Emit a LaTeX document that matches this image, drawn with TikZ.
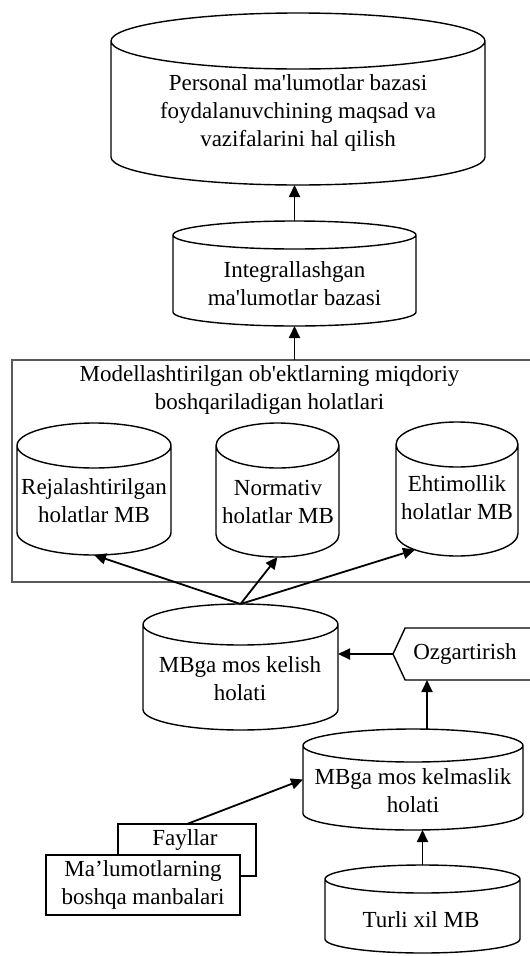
\documentclass[tikz,border=0pt]{standalone}
\usepackage{fontspec}
\setmainfont{Liberation Serif}[Ligatures=TeXOff]
\usetikzlibrary{arrows.meta,shapes.symbols,calc}

\tikzset{
  body/.style={draw=none, rectangle, inner sep=0pt, outer sep=0pt},
  cylline/.style={draw=black, line width=1.4pt},
  txt/.style={align=center, inner sep=0pt, font=\fontsize{23}{28}\selectfont},
  arr/.style={-{Triangle[length=12pt,width=11pt]}, line width=1.8pt},
  frame/.style={draw=black!65, line width=1.6pt, rectangle, inner sep=0pt, outer sep=0pt},
  srcbox/.style={draw=black, line width=1.4pt, fill=white, rectangle, inner sep=0pt, outer sep=0pt}
}

% database cylinder: name, left, right, top, bottom, y radius of the ends
\newcommand{\dbcyl}[6]{%
  \node[body, minimum width={#3-#2}, minimum height={#5-#4}] (#1) at ({(#2+#3)/2},{-(#4+#5)/2}) {};
  \draw[cylline] (#2,{-#4-#6}) -- (#2,{-#5+#6})
    arc[start angle=180, end angle=360, x radius={(#3-#2)/2}, y radius=#6]
    -- (#3,{-#4-#6})
    arc[start angle=0, end angle=360, x radius={(#3-#2)/2}, y radius=#6];
}

\begin{document}
\begin{tikzpicture}[x=1pt, y=1pt]
\useasboundingbox (0,0) rectangle (530,-956);
\fill[white] (0,0) rectangle (530,-956);

% personal database
\dbcyl{pers}{111}{485}{13}{185}{28}
\node[txt] (pers-t) at (298,-112.5) {Personal ma'lumotlar bazasi\\foydalanuvchining maqsad va\\vazifalarini hal qilish};

% integrated database
\dbcyl{integ}{173}{416}{221}{326}{14}
\node[txt] (integ-t) at (294.5,-284) {Integrallashgan\\ma'lumotlar bazasi};

% frame of modelled states
\node[frame, minimum width=540, minimum height=222] (box) at (282,-471) {};
\node[txt] (box-t) at (269.5,-390) {Modellashtirilgan ob'ektlarning miqdoriy\\boshqariladigan holatlari};

\dbcyl{rej}{17}{171}{423}{555}{22.5}
\node[txt] (rej-t) at (94,-501) {Rejalashtirilgan\\holatlar MB};
\dbcyl{norm}{216}{339}{423}{557}{22.5}
\node[txt] (norm-t) at (278,-501.5) {Normativ\\holatlar MB};
\dbcyl{eht}{396}{518}{422}{556}{22.5}
\node[txt] (eht-t) at (457,-497.5) {Ehtimollik\\holatlar MB};

% matching state
\dbcyl{kelish}{143}{338}{604}{730}{20.5}
\node[txt] (kelish-t) at (240,-679) {MBga mos kelish\\holati};

% transformation
\node[draw, line width=1.4pt, signal, signal to=west and east, signal pointer angle=130,
      minimum width=160, minimum height=52, inner sep=0pt, outer sep=0pt] (hex) at (473,-654) {};
\node[txt] (hex-t) at (465,-654) {Ozgartirish};

% mismatching state
\dbcyl{kelm}{303}{523}{729}{830}{16.5}
\node[txt] (kelm-t) at (413,-791) {MBga mos kelmaslik\\holati};

% various databases
\dbcyl{turli}{325}{520}{865}{953}{14}
\node[txt] (turli-t) at (421,-920) {Turli xil MB};

% files and other sources
\node[srcbox, minimum width=138, minimum height=52] (fay) at (187,-850) {};
\node[txt] (fay-t) at (185,-840) {Fayllar};
\node[srcbox, minimum width=194, minimum height=60, txt] (malum) at (143,-885) {Ma’lumotlarning\\boshqa manbalari};

% connectors
\draw[arr] (integ.north) -- (integ.north |- pers.south);
\draw[arr] (integ.south |- box.north) -- (integ.south);
\draw[arr] (kelish.north) -- (rej.south);
\draw[arr] (kelish.north) -- (norm.south);
\draw[arr] (kelish.north) -- ($(eht.south)+(-42,6.3)$);
\draw[arr] (hex.west) -- (hex.west -| kelish.east);
\draw[arr] ([xshift=14pt]kelm.north) -- ([xshift=14pt]kelm.north |- hex.south);
\draw[arr] (turli.north) -- (turli.north |- kelm.south);
\draw[arr] (fay.north) -- (kelm.west);
\end{tikzpicture}
\end{document}
